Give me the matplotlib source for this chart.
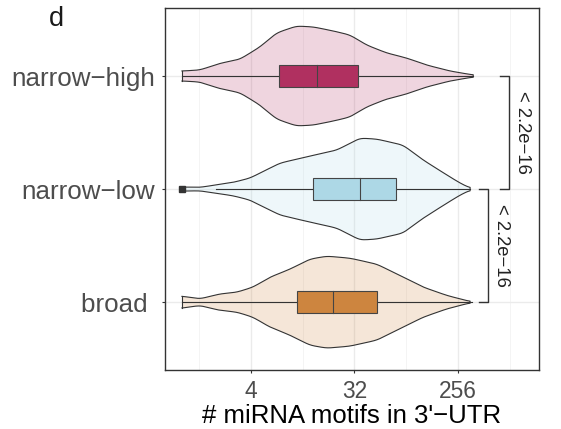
import numpy as np
import matplotlib
matplotlib.use("Agg")
import matplotlib.pyplot as plt

# ==============================
# DATA (x in log2 units of motif counts)
# ==============================
groups = ["narrow\u2212high", "narrow\u2212low", "broad "]
y_pos = [3, 2, 1]
box_colors = ["#B03060", "#ADD8E6", "#CD853F"]

# violin half-widths (in category units) read along log2(count)
nh_x = [0, 0.52, 1.10, 1.68, 2.26, 2.74, 3.32, 3.81, 4.39, 4.87, 5.35, 5.93, 6.51, 7.09, 7.77, 8.44]
nh_w = [0.044, 0.053, 0.112, 0.148, 0.257, 0.381, 0.442, 0.434, 0.398, 0.363, 0.274, 0.204, 0.159, 0.097, 0.044, 0.009]

nl_x = [0, 0.52, 1.01, 1.48, 1.97, 2.84, 3.71, 4.49, 5.16, 5.65, 6.41, 6.99, 7.68, 8.06, 8.35]
nl_w = [0.018, 0.015, 0.038, 0.059, 0.097, 0.230, 0.292, 0.345, 0.451, 0.442, 0.389, 0.257, 0.124, 0.053, 0.009]

br_x = [0, 0.52, 1.10, 1.59, 2.06, 2.55, 3.13, 3.71, 4.20, 4.87, 5.65, 6.41, 6.99, 7.68, 8.35]
br_w = [0.053, 0.029, 0.073, 0.088, 0.133, 0.221, 0.292, 0.381, 0.407, 0.389, 0.336, 0.221, 0.133, 0.059, 0.006]

# boxplot stats: whisker low, q1, median, q3, whisker high (log2)
box_stats = [
    [0.0, 2.81, 3.91, 5.10, 8.43],
    [1.0, 3.80, 5.16, 6.20, 8.35],
    [0.0, 3.33, 4.38, 5.65, 8.40],
]
outliers = [[], [0.0], []]

# comparisons: (upper group y, lower group y, label)
comparisons = [(3, 2, "< 2.2e\u221216"), (2, 1, "< 2.2e\u221216")]
bracket_x = [9.48, 8.87]

tick_vals = [4, 32, 256]
minor_vals = [2 ** 0.5, 2 ** 3.5, 2 ** 6.5, 2 ** 9.5]

plt.rcParams["font.family"] = ["Liberation Sans", "DejaVu Sans"]

fig = plt.figure(figsize=(5.61, 4.29), dpi=100)
ax = fig.add_axes([0.294, 0.1375, 0.667, 0.8435])
ax.set_xscale("log", base=2)


def smooth_profile(xs, ws, n=400):
    grid = np.linspace(xs[0], xs[-1], n)
    w = np.interp(grid, xs, ws)
    k = np.exp(-0.5 * (np.arange(-12, 13) / 5.0) ** 2)
    k /= k.sum()
    padded = np.concatenate([np.full(12, w[0]), w, np.full(12, w[-1])])
    w_s = np.convolve(padded, k, mode="valid")
    return grid, w_s


profiles = [(nh_x, nh_w), (nl_x, nl_w), (br_x, br_w)]
for (xs, ws), y, col in zip(profiles, y_pos, box_colors):
    g, w = smooth_profile(xs, ws)
    xv = 2.0 ** g
    poly_x = np.concatenate([xv, xv[::-1]])
    poly_y = np.concatenate([y + w, (y - w)[::-1]])
    ax.fill(poly_x, poly_y, facecolor=col, alpha=0.2, edgecolor="none", zorder=2)
    ax.plot(poly_x, poly_y, color="#333333", lw=0.8, zorder=3)
    ax.plot([poly_x[0], poly_x[-1]], [poly_y[0], poly_y[-1]], color="#333333", lw=0.8, zorder=3)

box_h = 0.1
for stats, y, col, outs in zip(box_stats, y_pos, box_colors, outliers):
    lo, q1, med, q3, hi = [2.0 ** v for v in stats]
    ax.plot([lo, q1], [y, y], color="#333333", lw=0.8, zorder=4)
    ax.plot([q3, hi], [y, y], color="#333333", lw=0.8, zorder=4)
    ax.fill([q1, q3, q3, q1], [y - box_h, y - box_h, y + box_h, y + box_h],
            facecolor=col, edgecolor="#444444", lw=0.8, zorder=5)
    ax.plot([med, med], [y - box_h, y + box_h], color="#444444", lw=0.8, zorder=6)
    for o in outs:
        ax.plot([2.0 ** o], [y], marker="s", ms=5, color="#333333", zorder=6)

# significance brackets
for (y1, y2, lab), bx in zip(comparisons, bracket_x):
    xr = 2.0 ** bx
    xl = 2.0 ** (bx - 0.27)
    ax.plot([xl, xr, xr, xl], [y1, y1, y2, y2], color="#333333", lw=1.0, zorder=4)
    ax.text(2.0 ** (bx + 0.38), (y1 + y2) / 2, lab, rotation=-90, ha="center", va="center",
            fontsize=13.3, color="#222222")

ax.set_xlim(2 ** -0.493, 2 ** 10.35)
ax.set_ylim(0.4, 3.6)

ax.set_xticks(tick_vals)
ax.set_xticklabels([str(v) for v in tick_vals])
ax.set_xticks(minor_vals, minor=True)
ax.xaxis.set_minor_formatter(plt.NullFormatter())
ax.set_yticks(y_pos)
ax.set_yticklabels(groups)

ax.grid(True, which="major", color="#EBEBEB", lw=1.0, zorder=0)
ax.grid(True, which="minor", axis="x", color="#F2F2F2", lw=0.6, zorder=0)
ax.set_axisbelow(True)

ax.tick_params(axis="both", which="major", length=2.5, width=0.8, color="#333333")
ax.tick_params(axis="x", which="major", labelsize=16.4, labelcolor="#4D4D4D", pad=4.5)
ax.tick_params(axis="y", which="major", labelsize=18.7, labelcolor="#4D4D4D", pad=4.5)
ax.tick_params(axis="x", which="minor", length=0)

for s in ax.spines.values():
    s.set_color("#333333")
    s.set_linewidth(1.0)

ax.set_xlabel("# miRNA motifs in 3'\u2212UTR", fontsize=18.5, color="black", labelpad=1)
fig.text(49 / 561, 1 - 19 / 429, "d", fontsize=19.5, color="#1A1A1A", ha="left", va="center")

fig.savefig("out.png", dpi=100)
